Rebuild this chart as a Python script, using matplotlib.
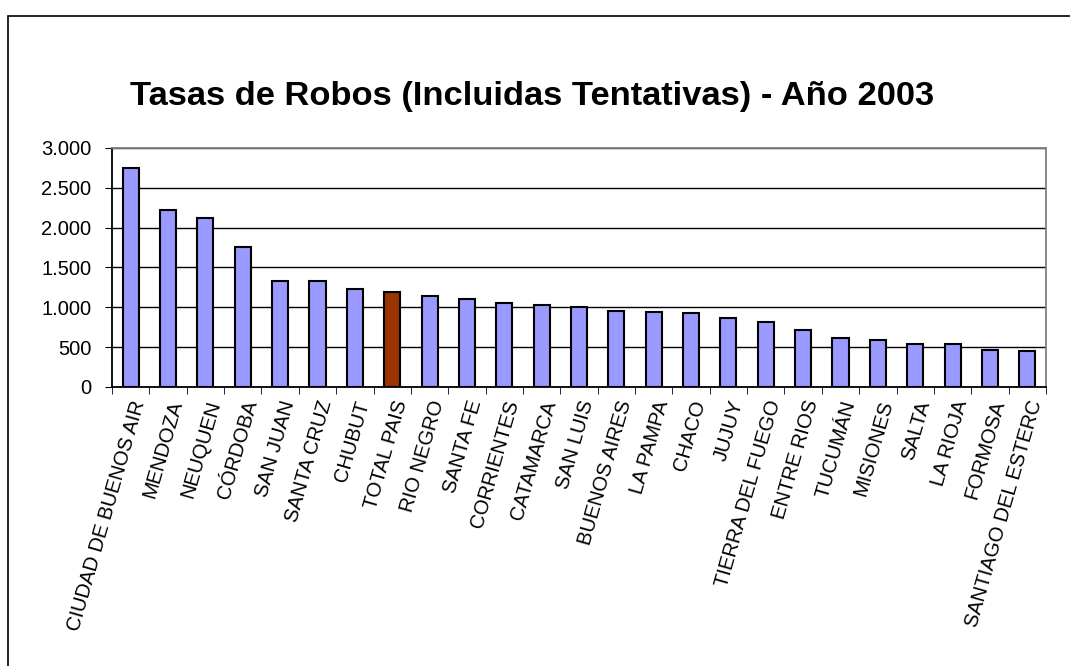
import numpy as np
import matplotlib
matplotlib.use('Agg')
import matplotlib.pyplot as plt
from matplotlib.ticker import FuncFormatter

plt.rcParams['font.family'] = ['Liberation Sans', 'DejaVu Sans']

provincias = ["CIUDAD DE BUENOS AIR", "MENDOZA", "NEUQUEN", "CÓRDOBA", "SAN JUAN",
              "SANTA CRUZ", "CHUBUT", "TOTAL PAIS", "RIO NEGRO", "SANTA FE",
              "CORRIENTES", "CATAMARCA", "SAN LUIS", "BUENOS AIRES", "LA PAMPA",
              "CHACO", "JUJUY", "TIERRA DEL FUEGO", "ENTRE RIOS", "TUCUMÁN",
              "MISIONES", "SALTA", "LA RIOJA", "FORMOSA", "SANTIAGO DEL ESTERC"]
tasas = [2750, 2225, 2120, 1755, 1335, 1325, 1225, 1190, 1140, 1100,
         1055, 1025, 1005, 950, 940, 935, 865, 815, 715, 615,
         585, 540, 535, 470, 455]
yticks = [0, 500, 1000, 1500, 2000, 2500, 3000]

colores = ['#993300' if p == "TOTAL PAIS" else '#9999FF' for p in provincias]

fig = plt.figure(figsize=(10.7, 6.66), dpi=100)

# marco exterior del grafico
fig.patches.append(plt.Rectangle((8/1070, -0.1), 1.2, (666-16)/666 + 0.1,
                                 transform=fig.transFigure, fill=False,
                                 edgecolor='black', linewidth=1.2))

fig.text(532/1070, 1 - 96/666, "Tasas de Robos (Incluidas Tentativas) - Año 2003",
         ha='center', va='center', fontsize=24.8, fontweight='bold')

ax = fig.add_axes([112/1070, 1 - 387/666, 934/1070, 239/666])
x = np.arange(len(provincias))
ax.bar(x, tasas, width=0.43, color=colores, edgecolor='black', linewidth=1.5, zorder=3)

ax.set_xlim(-0.5, len(provincias) - 0.5)
ax.set_ylim(0, 3000)
ax.set_yticks(yticks)
ax.yaxis.set_major_formatter(FuncFormatter(lambda v, p: f"{int(v):,}".replace(",", ".")))
ax.grid(axis='y', color='black', linewidth=1, zorder=1)

ax.set_xticks(x)
ax.set_xticklabels(provincias, rotation=74, ha='right', rotation_mode='anchor', fontsize=14.5)
ax.set_xticks(np.arange(-0.5, len(provincias)), minor=True)
ax.tick_params(axis='x', which='major', length=0, pad=8)
ax.tick_params(axis='x', which='minor', length=5, color='black', direction='out')
ax.tick_params(axis='y', length=5, labelsize=14.5, color='black', pad=10)

ax.spines['left'].set_color('black')
ax.spines['bottom'].set_color('black')
ax.spines['top'].set_color('#808080')
ax.spines['right'].set_color('#808080')
for s in ax.spines.values():
    s.set_linewidth(1.3)

fig.savefig('out.png', dpi=100)
